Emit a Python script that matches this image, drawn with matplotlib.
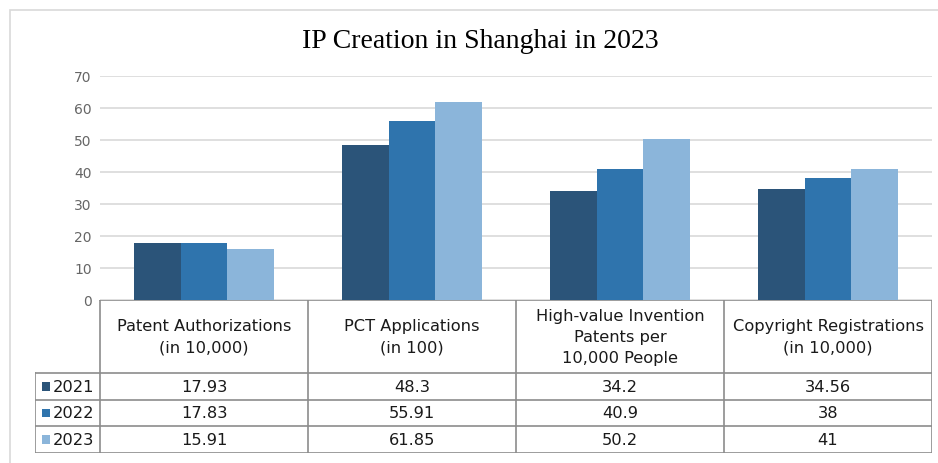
import matplotlib
matplotlib.use("Agg")
import matplotlib.pyplot as plt
import matplotlib.patches as mpatches
from matplotlib.lines import Line2D
import numpy as np

# ── data ─────────────────────────────────────────────────────────────────────
categories = ["Patent Authorizations\n(in 10,000)",
              "PCT Applications\n(in 100)",
              "High-value Invention\nPatents per\n10,000 People",
              "Copyright Registrations\n(in 10,000)"]
years = ["2021", "2022", "2023"]
v2021 = [17.93, 48.3, 34.2, 34.56]
v2022 = [17.83, 55.91, 40.9, 38]
v2023 = [15.91, 61.85, 50.2, 41]
labels_2021 = ["17.93", "48.3", "34.2", "34.56"]
labels_2022 = ["17.83", "55.91", "40.9", "38"]
labels_2023 = ["15.91", "61.85", "50.2", "41"]
yticks = [0, 10, 20, 30, 40, 50, 60, 70]

colors = ["#2b5479", "#2f74ad", "#8bb5da"]
grid_c = "#d9d9d9"
line_c = "#8c8c8c"
W, H = 938, 464

def fx(px): return px / W
def fy(py): return 1 - py / H

fig = plt.figure(figsize=(W / 100, H / 100), dpi=100)
fig.patch.set_facecolor("white")

# chart frame (right/bottom edges run off the picture)
fig.patches.append(mpatches.Rectangle((fx(10), fy(470)), fx(940) - fx(10), fy(11) - fy(470),
                                      transform=fig.transFigure, fill=False,
                                      ec=grid_c, lw=1.2))

fig.text(fx(480), fy(41), "IP Creation in Shanghai in 2023", ha="center", va="center",
         fontsize=20, family="Liberation Serif", color="black")

# ── bars ─────────────────────────────────────────────────────────────────────
ax = fig.add_axes([fx(100), fy(301), fx(932) - fx(100), fy(77) - fy(301)])
x = np.arange(len(categories))
bw = 1 / 4.46
for i, vals in enumerate([v2021, v2022, v2023]):
    ax.bar(x + (i - 1) * bw, vals, bw, color=colors[i], zorder=3)
ax.set_xlim(-0.5, 3.5)
ax.set_ylim(0, 70)
ax.set_yticks(yticks)
ax.set_xticks([])
ax.tick_params(axis="y", length=0, pad=6, labelsize=10, labelcolor="#666666")
ax.grid(axis="y", color=grid_c, lw=1.2, zorder=0)
for s in ["top", "right", "left", "bottom"]:
    ax.spines[s].set_visible(False)
ax.set_facecolor("none")

# ── data table ───────────────────────────────────────────────────────────────
left_w = 65 / 208
tx = fig.add_axes([fx(35), fy(454), fx(932) - fx(35), fy(301) - fy(454)])
tx.set_xlim(-0.5 - left_w, 3.5)
tx.set_ylim(454, 301)
tx.axis("off")
tfont = dict(family="DejaVu Sans", fontsize=11.7, color="#1a1a1a")

row_y = [301, 374, 400.7, 427.3, 454]
# horizontal lines
tx.add_line(Line2D([-0.5, 3.5], [row_y[0]] * 2, color=line_c, lw=1.2))
for yy in row_y[1:]:
    tx.add_line(Line2D([-0.5 - left_w, 3.5], [yy] * 2, color=line_c, lw=1.2))
# vertical lines
for xx in np.arange(-0.5, 4.0, 1.0):
    tx.add_line(Line2D([xx, xx], [298, 454], color=line_c, lw=1.2))
tx.add_line(Line2D([-0.5 - left_w] * 2, [374, 454], color=line_c, lw=1.2))

for i, cat in enumerate(categories):
    tx.text(i, 337.5, cat, ha="center", va="center", linespacing=1.5, **tfont)

for r, (yr, labs) in enumerate(zip(years, [labels_2021, labels_2022, labels_2023])):
    yc = (row_y[r + 1] + row_y[r + 2]) / 2
    sq = 8.5 / 208
    tx.add_patch(mpatches.Rectangle((-0.5 - left_w + 7 / 208, yc - 4.25), sq, 8.5,
                                    color=colors[r], lw=0))
    tx.text(-0.5 - left_w + 18 / 208, yc, yr, ha="left", va="center", **tfont)
    for i, lab in enumerate(labs):
        tx.text(i, yc, lab, ha="center", va="center", **tfont)

fig.savefig("out.png", dpi=100, facecolor="white")
